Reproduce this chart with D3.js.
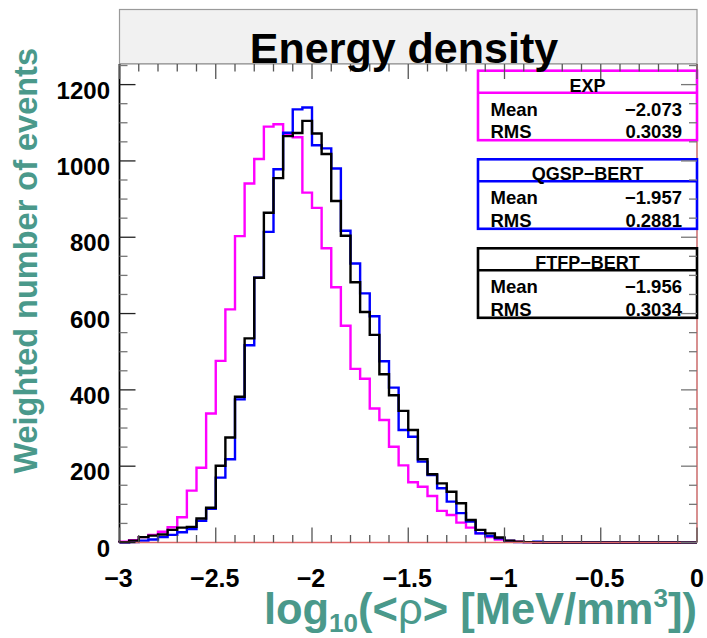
<!DOCTYPE html>
<html>
<head>
<meta charset="utf-8">
<script src="https://cdn.jsdelivr.net/npm/d3@7"></script>
<style>
  html, body { margin: 0; padding: 0; background: #fff; }
  svg { display: block; }
  text { font-family: "Liberation Sans", Arial, Helvetica, sans-serif; font-weight: bold; }
</style>
</head>
<body>
<svg id="chart" width="707" height="638"></svg>
<script>
// ---------------- data ----------------
const title = "Energy density";
const xMin = -3, xMax = 0, nBins = 60;
const yMax = 1254;
const xTickValues = [-3, -2.5, -2, -1.5, -1, -0.5, 0];
const xTickLabels = ["\u22123", "\u22122.5", "\u22122", "\u22121.5", "\u22121", "\u22120.5", "0"];
const yTickValues = [0, 200, 400, 600, 800, 1000, 1200];
const yTickLabels = ["0", "200", "400", "600", "800", "1000", "1200"];

const expValues = [2, 6, 14, 20, 28, 40, 66, 136, 196, 338, 476, 611, 803, 941, 1005, 1090, 1096, 1070, 1062, 917,
  877, 771, 669, 568, 455, 429, 351, 321, 251, 202, 158, 146, 122, 83, 72, 52, 39, 24, 14, 8,
  4, 2, 1, 0, 0, 0, 0, 0, 0, 0, 0, 0, 0, 0, 0, 0, 0, 0, 0, 0];
const qgspValues = [0, 1, 5, 8, 14, 20, 27, 35, 57, 88, 170, 218, 375, 517, 694, 814, 978, 1074, 1135, 1140,
  1041, 1033, 980, 817, 731, 653, 593, 475, 406, 295, 277, 212, 177, 142, 107, 77, 55, 24, 17, 11,
  4, 1, 1, 2, 0, 0, 0, 0, 0, 0, 0, 0, 0, 0, 0, 0, 0, 0, 0, 0];
const ftfpValues = [1, 5, 14, 18, 21, 33, 39, 41, 63, 91, 201, 275, 382, 535, 694, 864, 955, 1065, 1073, 1105,
  1072, 1018, 895, 804, 682, 604, 544, 441, 386, 345, 295, 218, 179, 155, 133, 103, 59, 33, 24, 13,
  5, 2, 1, 0, 0, 0, 0, 0, 0, 0, 0, 0, 0, 0, 0, 0, 0, 0, 0, 0];

const statNames = ["EXP", "QGSP\u2212BERT", "FTFP\u2212BERT"];
const statMeans = ["\u22122.073", "\u22121.957", "\u22121.956"];
const statRMS = ["0.3039", "0.2881", "0.3034"];

const xTitleParts = ["log", "10", "(<", "\u03c1", "> [MeV/mm", "3", "])"];
const yTitle = "Weighted number of events";

// ---------------- layout ----------------
const svg = d3.select("#chart");
const L = 119.5, R = 697, T = 64, B = 542.5;
const teal = "#4a998b";
const histColors = ["#ff00ff", "#0000ff", "#000000"];

const x = d3.scaleLinear().domain([xMin, xMax]).range([L, R]);
const y = d3.scaleLinear().domain([0, yMax]).range([B, T]);

// title box
svg.append("rect").attr("x", L).attr("y", 9.5).attr("width", R - L).attr("height", T - 9.5)
  .attr("fill", "#f1f1f1").attr("stroke", "#9a9a9a").attr("stroke-width", 1.2);

// frame background
svg.append("rect").attr("x", L).attr("y", T).attr("width", R - L).attr("height", B - T)
  .attr("fill", "#fff");

// histograms
const binW = (xMax - xMin) / nBins;
function histPath(vals) {
  const pts = [[xMin, 0]];
  vals.forEach((v, i) => pts.push([xMin + i * binW, v]));
  pts.push([xMax, vals[vals.length - 1]]);
  pts.push([xMax, 0]);
  return d3.line().x(d => x(d[0])).y(d => y(d[1])).curve(d3.curveStepAfter)(pts);
}
[expValues, qgspValues, ftfpValues].forEach((vals, k) => {
  svg.append("path").attr("d", histPath(vals)).attr("fill", "none")
    .attr("stroke", histColors[k]).attr("stroke-width", 2.4).attr("stroke-linejoin", "miter");
});

// frame lines
svg.append("line").attr("x1", L).attr("x2", R).attr("y1", T).attr("y2", T).attr("stroke", "#888").attr("stroke-width", 1.2);
svg.append("line").attr("x1", L).attr("x2", L).attr("y1", T).attr("y2", B).attr("stroke", "#000").attr("stroke-width", 1.8);
svg.append("line").attr("x1", R).attr("x2", R).attr("y1", T).attr("y2", B).attr("stroke", "#c86060").attr("stroke-width", 1.4);
svg.append("line").attr("x1", L).attr("x2", R).attr("y1", B).attr("y2", B).attr("stroke", "#e06868").attr("stroke-width", 1.6);

// stat boxes
const boxX = 478, boxW = R - 478;
const boxTops = [70.7, 159.3, 248.3];
const boxH = 69.5, headH = 22;
const fs = 18.5;
statNames.forEach((name, k) => {
  const g = svg.append("g");
  const top = boxTops[k];
  g.append("rect").attr("x", boxX).attr("y", top).attr("width", boxW).attr("height", boxH)
    .attr("fill", "#fff").attr("stroke", histColors[k]).attr("stroke-width", 2.6);
  g.append("line").attr("x1", boxX).attr("x2", boxX + boxW).attr("y1", top + headH).attr("y2", top + headH)
    .attr("stroke", histColors[k]).attr("stroke-width", 2.6);
  g.append("text").attr("x", boxX + boxW / 2).attr("y", top + 21).attr("text-anchor", "middle")
    .attr("font-size", 18).text(name);
  g.append("text").attr("x", 490.5).attr("y", top + 45).attr("font-size", fs).text("Mean");
  g.append("text").attr("x", 682).attr("y", top + 45).attr("font-size", fs).attr("text-anchor", "end").text(statMeans[k]);
  g.append("text").attr("x", 490.5).attr("y", top + 67.5).attr("font-size", fs).text("RMS");
  g.append("text").attr("x", 682).attr("y", top + 67.5).attr("font-size", fs).attr("text-anchor", "end").text(statRMS[k]);
});

// ticks
const tickCol = "#555";
const xMinor = d3.range(0, 31).map(i => xMin + i * 0.1);
xMinor.forEach(v => {
  const isMajor = Math.abs(v * 2 - Math.round(v * 2)) < 1e-6;
  const len = isMajor ? 15 : 7.5;
  svg.append("line").attr("x1", x(v)).attr("x2", x(v)).attr("y1", B).attr("y2", B - len)
    .attr("stroke", tickCol).attr("stroke-width", 1.3);
  svg.append("line").attr("x1", x(v)).attr("x2", x(v)).attr("y1", T).attr("y2", T + len)
    .attr("stroke", tickCol).attr("stroke-width", 1.3);
});
const yMinor = d3.range(0, 26).map(i => i * 50).filter(v => v <= yMax);
yMinor.forEach(v => {
  const isMajor = v % 200 === 0;
  const len = isMajor ? 16 : 8;
  svg.append("line").attr("x1", L).attr("x2", L + len).attr("y1", y(v)).attr("y2", y(v))
    .attr("stroke", isMajor ? "#222" : "#777").attr("stroke-width", 1.3);
  svg.append("line").attr("x1", R).attr("x2", R - len).attr("y1", y(v)).attr("y2", y(v))
    .attr("stroke", "#777").attr("stroke-width", 1.3);
});

// tick labels
xTickValues.forEach((v, i) => {
  svg.append("text").attr("x", x(v) + (v < 0 ? -1 : 0)).attr("y", 587).attr("text-anchor", "middle")
    .attr("font-size", 25).text(xTickLabels[i]);
});
yTickValues.forEach((v, i) => {
  svg.append("text").attr("x", 110).attr("y", y(v) + 14).attr("text-anchor", "end")
    .attr("font-size", 24).text(yTickLabels[i]);
});

// title
svg.append("text").attr("x", 404).attr("y", 63).attr("text-anchor", "middle")
  .attr("font-size", 43).text(title);

// axis titles
const xt = svg.append("text").attr("x", R).attr("y", 624).attr("text-anchor", "end")
  .attr("font-size", 43.5).attr("fill", teal);
xt.append("tspan").text(xTitleParts[0]);
xt.append("tspan").attr("font-size", 26).attr("dy", 8).text(xTitleParts[1]);
xt.append("tspan").attr("dy", -8).text(xTitleParts[2]);
xt.append("tspan").attr("font-weight", "normal").text(xTitleParts[3]);
xt.append("tspan").text(xTitleParts[4]);
xt.append("tspan").attr("font-size", 26).attr("dy", -17).text(xTitleParts[5]);
xt.append("tspan").attr("dy", 17).text(xTitleParts[6]);

svg.append("text").attr("transform", "translate(37,48) rotate(-90)").attr("text-anchor", "end")
  .attr("font-size", 32.5).attr("fill", teal).text(yTitle);
</script>
</body>
</html>
